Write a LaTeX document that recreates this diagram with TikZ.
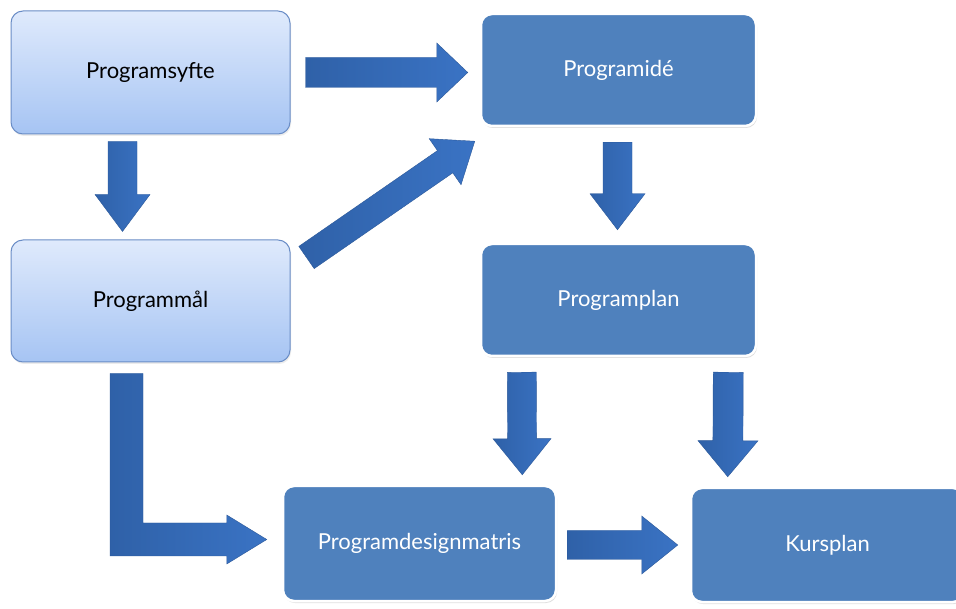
\documentclass[tikz,border=0pt]{standalone}
\usepackage{fontspec}
\setmainfont{Lato}
\usetikzlibrary{calc,shadows}
\definecolor{lighttop}{HTML}{DFEAFC}
\definecolor{lightbot}{HTML}{A6C4F3}
\definecolor{lightedge}{HTML}{6A8DC6}
\definecolor{darkfill}{HTML}{4F81BD}
\definecolor{arrowA}{HTML}{2F61A8}
\definecolor{arrowB}{HTML}{3A73C4}
\definecolor{arrowedge}{HTML}{2B5899}
\tikzset{
  lightbox/.style={rectangle, rounded corners=12pt, top color=lighttop, bottom color=lightbot,
    draw=lightedge, line width=1pt, text=black, inner sep=0pt,
    drop shadow={opacity=0.15, shadow xshift=1pt, shadow yshift=-2pt}},
  darkbox/.style={rectangle, rounded corners=11pt, fill=darkfill, draw=white, line width=2.5pt,
    text=white, inner sep=0pt,
    drop shadow={opacity=0.25, shadow xshift=1pt, shadow yshift=-2pt}},
  blockarrow/.style={left color=arrowA, right color=arrowB, draw=arrowedge, line width=0.4pt, line join=miter},
  boxtext/.style={font=\fontsize{22}{26}\selectfont}
}
% #1 start, #2 tip, #3 shaft half width, #4 head half width, #5 head length
\newcommand\barrow[5]{%
  \path[blockarrow] let \p1=($(#2)-(#1)$), \n1={atan2(\y1,\x1)}, \n2={veclen(\x1,\y1)} in
    ($(#1)+(\n1+90:#3pt)$) -- ++(\n1:{\n2-#5}) -- ++(\n1+90:{#4-#3}) -- (#2)
    -- ($(#1)+(\n1:{\n2-#5})+(\n1-90:#4pt)$) -- ++(\n1+90:{#4-#3}) -- ($(#1)+(\n1-90:#3pt)$) -- cycle;}
\begin{document}
\begin{tikzpicture}[x=1pt,y=1pt]
\useasboundingbox (0,0) rectangle (956,608);
\clip (0,0) rectangle (956,608);
\fill[white] (0,0) rectangle (956,608);

% boxes
\node[lightbox, boxtext, minimum width=279pt, minimum height=123pt] (syfte) at (150.5,535.5) {Programsyfte};
\node[lightbox, boxtext, minimum width=279pt, minimum height=122pt] (mal) at (150.5,307) {Programmål};
\node[darkbox, boxtext, minimum width=275pt, minimum height=112pt] (ide) at (618.5,538) {Programidé};
\node[darkbox, boxtext, minimum width=275pt, minimum height=112pt] (plan) at (618.5,308) {Programplan};
\node[darkbox, boxtext, minimum width=273pt, minimum height=115pt] (matris) at (419.5,64.5) {Programdesignmatris};
\node[darkbox, boxtext, minimum width=273pt, minimum height=114pt] (kurs) at (827.5,63) {Kursplan};

% arrow end points
\coordinate (a1s) at ($(syfte.east)+(15,0)$);
\coordinate (a1t) at ($(ide.west |- syfte.east)+(-12,0)$);
\coordinate (a2s) at ($(syfte.south)+(-28,-7)$);
\coordinate (a2t) at ($(mal.north)+(-28,8)$);
\coordinate (a3s) at ($(mal.east)+(16,43.5)$);
\coordinate (a3t) at ($(ide.south west)+(-5,-14)$);
\coordinate (a4s) at ($(ide.south)+(-1,-15)$);
\coordinate (a4t) at ($(plan.north)+(-1,13)$);
\coordinate (a5s) at ($(plan.south west)+(42,-15)$);
\coordinate (a5t) at ($(matris.north east)+(-35,10)$);
\coordinate (a6s) at ($(plan.south east)+(-29,-15)$);
\coordinate (a6t) at ($(kurs.north west)+(38,10)$);
\coordinate (a7s) at ($(matris.east)+(10,-1.5)$);
\coordinate (a7t) at ($(kurs.west)+(-12,0)$);
\coordinate (a8s) at ($(mal.south)+(-24,-11)$);
\coordinate (a8t) at ($(matris.west)+(-15,4)$);

% arrows
\barrow{a1s}{a1t}{15}{29.5}{31}
\barrow{a2s}{a2t}{14.5}{27.5}{37}
\barrow{a3s}{a3t}{13.5}{28}{36}
\barrow{a4s}{a4t}{14.5}{27.5}{36}
\barrow{a5s}{a5t}{14.5}{29}{36}
\barrow{a6s}{a6t}{15}{30}{36}
\barrow{a7s}{a7t}{14.5}{29}{36}
\path[blockarrow] let \p1=(a8s), \p2=(a8t) in
  (\x1-16.5pt,\y1) -- (\x1+16.5pt,\y1) -- (\x1+16.5pt,\y2+16.5pt) -- (\x2-40pt,\y2+16.5pt)
  -- (\x2-40pt,\y2+24.5pt) -- (\x2,\y2) -- (\x2-40pt,\y2-24.5pt) -- (\x2-40pt,\y2-16.5pt)
  -- (\x1-16.5pt,\y2-16.5pt) -- cycle;
\end{tikzpicture}
\end{document}
